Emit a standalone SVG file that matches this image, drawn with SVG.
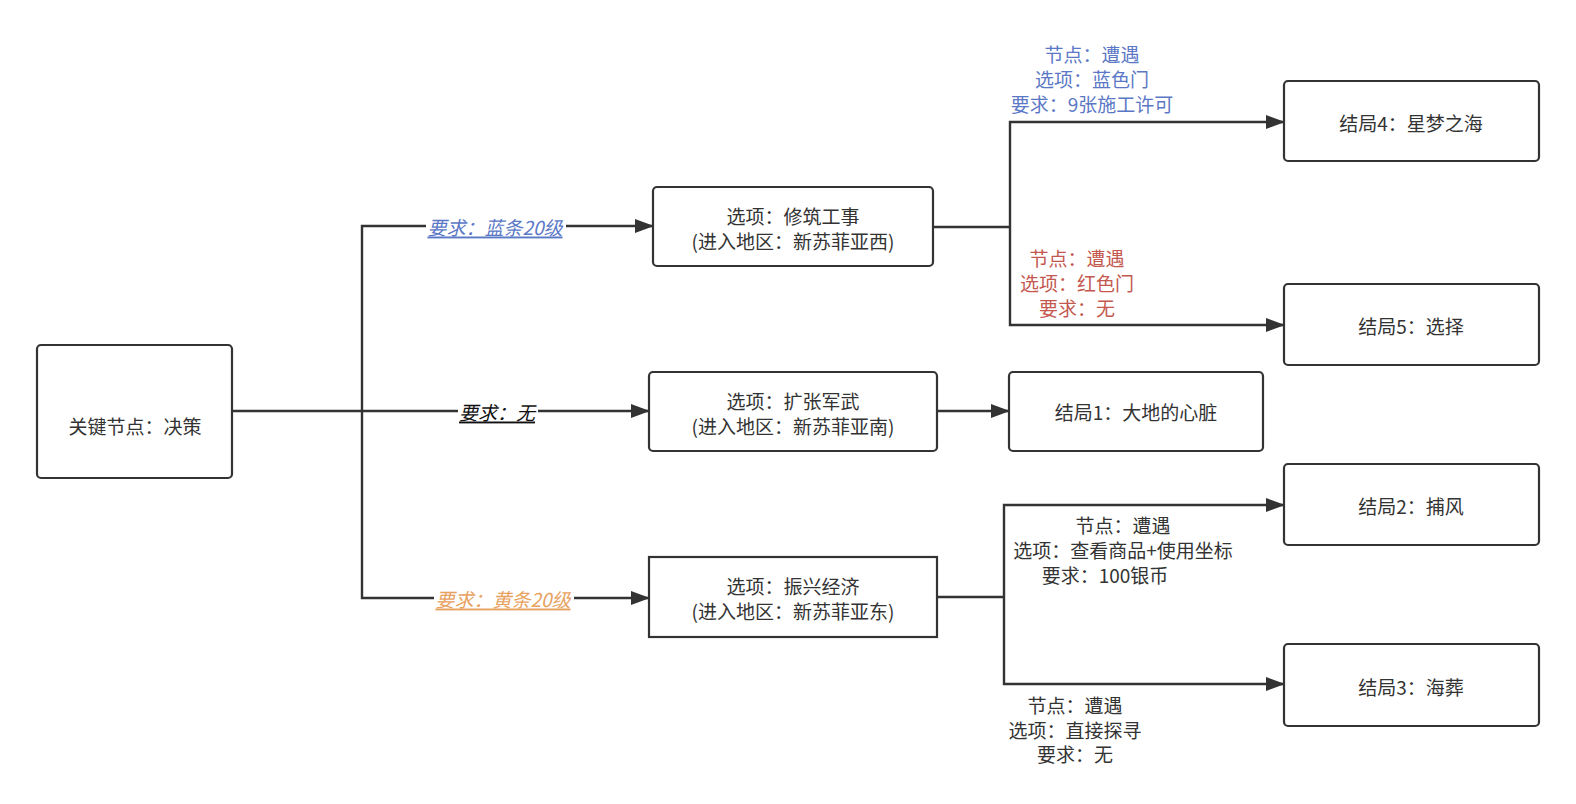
<svg xmlns="http://www.w3.org/2000/svg" width="1576" height="804" viewBox="0 0 1576 804">
<style>
text{font-family:"Noto Sans CJK SC","Noto Sans",sans-serif;font-size:19px;fill:#333;text-anchor:middle;dominant-baseline:central}
.box{fill:#fff;stroke:#333;stroke-width:2.2}
.ln{fill:none;stroke:#333;stroke-width:2.4}
.el{font-style:italic;text-decoration:underline}
.blue{fill:#5b78c6}
.red{fill:#c4584f}
.orange{fill:#e8a25f}
</style>
<defs>
<marker id="arr" markerUnits="userSpaceOnUse" markerWidth="19" markerHeight="14" refX="18" refY="7" orient="auto">
<path d="M0,0 L19,7 L0,14 Z" fill="#333"/>
</marker>
</defs>
<rect width="1576" height="804" fill="#fff"/>
<g id="connectors">
<path class="ln" d="M232,411 H362"/>
<path class="ln" d="M362,411 V226 H653" marker-end="url(#arr)"/>
<path class="ln" d="M362,411 H649" marker-end="url(#arr)"/>
<path class="ln" d="M362,411 V598 H649" marker-end="url(#arr)"/>
<path class="ln" d="M933,227 H1010"/>
<path class="ln" d="M1010,227 V122 H1284" marker-end="url(#arr)"/>
<path class="ln" d="M1010,227 V325 H1284" marker-end="url(#arr)"/>
<path class="ln" d="M937,411 H1009" marker-end="url(#arr)"/>
<path class="ln" d="M937,597 H1004"/>
<path class="ln" d="M1004,597 V505 H1284" marker-end="url(#arr)"/>
<path class="ln" d="M1004,597 V684 H1284" marker-end="url(#arr)"/>
<rect x="426" y="214" width="140" height="24" fill="#fff"/>
<text class="el blue" x="495" y="226">要求：蓝条20级</text>
<rect x="458" y="399" width="80" height="24" fill="#fff"/>
<text class="el" x="497" y="411" style="fill:#111">要求：无</text>
<rect x="434" y="586" width="140" height="24" fill="#fff"/>
<text class="el orange" x="503" y="598">要求：黄条20级</text>
<text class="blue" x="1092" y="53">节点：遭遇</text>
<text class="blue" x="1092" y="78">选项：蓝色门</text>
<text class="blue" x="1092" y="103">要求：9张施工许可</text>
<text class="red" x="1077" y="257">节点：遭遇</text>
<text class="red" x="1077" y="282">选项：红色门</text>
<text class="red" x="1077" y="307">要求：无</text>
<text x="1123" y="524">节点：遭遇</text>
<text x="1123" y="549">选项：查看商品+使用坐标</text>
<text x="1105" y="574">要求：100银币</text>
<text x="1075" y="704">节点：遭遇</text>
<text x="1075" y="729">选项：直接探寻</text>
<text x="1075" y="753">要求：无</text>
</g>
<g id="decision">
<rect class="box" x="37" y="345" width="195" height="133" rx="4"/>
<text x="135" y="425">关键节点：决策</text>
</g>
<g id="optA">
<rect class="box" x="653" y="187" width="280" height="79" rx="4"/>
<text x="793" y="215">选项：修筑工事</text>
<text x="793" y="240">(进入地区：新苏菲亚西)</text>
</g>
<g id="optB">
<rect class="box" x="649" y="372" width="288" height="79" rx="4"/>
<text x="793" y="400">选项：扩张军武</text>
<text x="793" y="425">(进入地区：新苏菲亚南)</text>
</g>
<g id="optC">
<rect class="box" x="649" y="557" width="288" height="80"/>
<text x="793" y="585">选项：振兴经济</text>
<text x="793" y="610">(进入地区：新苏菲亚东)</text>
</g>
<g id="end4">
<rect class="box" x="1284" y="81" width="255" height="80" rx="4"/>
<text x="1411" y="122">结局4：星梦之海</text>
</g>
<g id="end5">
<rect class="box" x="1284" y="284" width="255" height="81" rx="4"/>
<text x="1411" y="325">结局5：选择</text>
</g>
<g id="end1">
<rect class="box" x="1009" y="372" width="254" height="79" rx="4"/>
<text x="1136" y="411">结局1：大地的心脏</text>
</g>
<g id="end2">
<rect class="box" x="1284" y="464" width="255" height="81" rx="4"/>
<text x="1411" y="505">结局2：捕风</text>
</g>
<g id="end3">
<rect class="box" x="1284" y="644" width="255" height="82" rx="4"/>
<text x="1411" y="686">结局3：海葬</text>
</g>
</svg>
